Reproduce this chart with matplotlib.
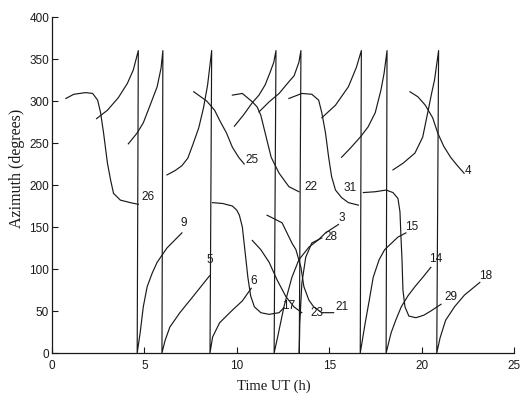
import matplotlib
matplotlib.use('Agg')
import matplotlib.pyplot as plt

# azimuth tracks: time UT (h), azimuth (deg)
# a 360 -> 0 jump is kept as two consecutive points (the vertical lines)
sv26_t = [0.75, 1.18, 1.82, 2.2, 2.47, 2.63, 2.79, 3.0, 3.17, 3.33, 3.7, 4.24, 4.67]
sv26_az = [303, 308, 310, 309, 301, 286, 262, 226, 206, 190, 182, 179, 177]

sv9_t = [2.41, 3.0, 3.59, 4.08, 4.4, 4.67, 4.61, 4.77, 4.94, 5.15, 5.42, 5.69, 6.22, 7.03]
sv9_az = [279, 289, 304, 321, 337, 360, 0, 24, 55, 79, 95, 108, 125, 143]

sv5_t = [4.13, 4.61, 4.94, 5.31, 5.69, 5.9, 6.0, 5.95, 6.12, 6.38, 6.92, 7.62, 8.53]
sv5_az = [249, 262, 274, 295, 317, 339, 360, 0, 15, 31, 48, 67, 92]

sv6_t = [6.22, 6.65, 7.03, 7.35, 7.62, 7.94, 8.2, 8.42, 8.64, 8.55, 8.69, 9.07, 9.76, 10.3, 10.78]
sv6_az = [212, 217, 223, 232, 248, 268, 292, 319, 360, 0, 19, 36, 51, 62, 77]

sv25_t = [7.67, 8.37, 8.8, 9.07, 9.44, 9.76, 10.1, 10.4]
sv25_az = [311, 300, 289, 277, 262, 245, 233, 225]

sv22_t = [9.76, 10.3, 10.84, 11.1, 11.3, 11.59, 11.86, 12.29, 12.82, 13.36]
sv22_az = [307, 309, 299, 293, 283, 257, 233, 214, 198, 192]

sv17_t = [8.69, 9.23, 9.76, 10.0, 10.14, 10.3, 10.45, 10.6, 10.75, 10.95, 11.3, 11.75, 12.29, 12.55]
sv17_az = [179, 178, 175, 170, 164, 150, 120, 90, 68, 55, 48, 46, 48, 54]

sv23_t = [10.84, 11.3, 11.75, 12.18, 12.66, 13.09, 13.52]
sv23_az = [134, 123, 108, 87, 67, 55, 48]

sv21_t = [11.64, 12.45, 12.98, 13.2, 13.47, 13.63, 13.9, 14.16, 14.6, 15.24]
sv21_az = [164, 155, 131, 123, 102, 79, 63, 55, 48, 48]

sv3_t = [9.87, 10.35, 10.84, 11.2, 11.53, 11.8, 12.0, 12.12, 12.02, 12.2, 12.55, 12.98,
         13.36, 13.9, 14.43, 14.8, 15.5]
sv3_az = [270, 283, 298, 307, 319, 334, 346, 360, 0, 18, 55, 90, 111, 126, 135, 143, 153]

sv28_t = [11.2, 11.75, 12.29, 12.82, 13.1, 13.36, 13.47, 13.38, 13.41, 13.52, 13.73, 14.06, 14.6]
sv28_az = [287, 299, 309, 323, 330, 346, 360, 0, 36, 83, 114, 131, 137]

sv31_t = [12.82, 13.52, 14.06, 14.43, 14.6, 14.8, 14.97, 15.13, 15.34, 15.67, 16.04, 16.58]
sv31_az = [303, 309, 308, 301, 286, 262, 233, 210, 194, 185, 179, 176]

sv15_t = [14.6, 15.34, 16.04, 16.47, 16.74, 16.68, 16.95, 17.17, 17.38, 17.7, 18.0, 18.72, 19.15]
sv15_az = [280, 295, 317, 340, 360, 0, 36, 63, 90, 111, 123, 138, 143]

sv14_t = [15.67, 16.15, 16.68, 17.1, 17.49, 17.8, 17.97, 18.13, 18.08, 18.35, 18.6, 18.9,
          19.26, 19.64, 20.06, 20.5]
sv14_az = [233, 244, 257, 269, 286, 313, 333, 360, 0, 24, 39, 55, 68, 79, 90, 102]

sv29_t = [16.85, 17.5, 18.08, 18.45, 18.72, 18.83, 18.88, 18.94, 18.99, 19.1, 19.31, 19.69,
          20.12, 20.5, 21.05]
sv29_az = [191, 192, 194, 191, 184, 168, 140, 111, 75, 55, 44, 42, 45, 50, 58]

sv4_t = [19.37, 19.8, 20.2, 20.6, 20.87, 21.2, 21.57, 21.94, 22.3]
sv4_az = [311, 305, 295, 280, 262, 246, 233, 223, 214]

sv18_t = [18.45, 19.0, 19.64, 20.06, 20.33, 20.55, 20.7, 20.92, 20.82, 21.0, 21.3, 21.78,
          22.32, 23.15]
sv18_az = [218, 226, 238, 257, 286, 310, 325, 360, 0, 18, 39, 55, 69, 84]

tracks = [
    ('26', sv26_t, sv26_az), ('9', sv9_t, sv9_az), ('5', sv5_t, sv5_az),
    ('6', sv6_t, sv6_az), ('25', sv25_t, sv25_az), ('22', sv22_t, sv22_az),
    ('17', sv17_t, sv17_az), ('23', sv23_t, sv23_az), ('21', sv21_t, sv21_az),
    ('3', sv3_t, sv3_az), ('28', sv28_t, sv28_az), ('31', sv31_t, sv31_az),
    ('15', sv15_t, sv15_az), ('14', sv14_t, sv14_az), ('29', sv29_t, sv29_az),
    ('4', sv4_t, sv4_az), ('18', sv18_t, sv18_az),
]

# where each PRN label sits relative to the end of its track (pixels)
label_offset = {
    '26': (10, 7), '9': (2, 10), '5': (0, 16), '6': (2, 7), '25': (8, 4),
    '22': (12, 5), '17': (5, 2), '23': (15, 0), '21': (8, 6), '3': (3, 6),
    '28': (9, 1), '31': (-8, 17), '15': (6, 6), '14': (5, 8), '29': (10, 7),
    '18': (6, 6), '4': (4, 2),
}

fig = plt.figure(figsize=(5.22, 3.98), dpi=100)
ax = fig.add_axes([52/522, 45/398, 462/522, 336/398])
LC = '#1a1a1a'
for prn, t, az in tracks:
    ax.plot(t, az, color=LC, lw=0.85)
    ax.annotate(prn, xy=(t[-1], az[-1]), xytext=label_offset[prn],
                textcoords='offset pixels', ha='center', va='center',
                fontsize=8.5, family='Liberation Sans', color=LC)

ax.set_xlim(0, 25)
ax.set_ylim(0, 400)
ax.set_xticks(range(0, 26, 5))
ax.set_yticks(range(0, 401, 50))
for s in ['top', 'right']:
    ax.spines[s].set_visible(False)
for s in ['left', 'bottom']:
    ax.spines[s].set_linewidth(0.9)
    ax.spines[s].set_color(LC)
ax.tick_params(direction='in', length=4, width=0.8, colors=LC, labelsize=8.5)
ax.tick_params(axis='y', pad=2)
ax.tick_params(axis='x', pad=5)
for lb in ax.get_xticklabels() + ax.get_yticklabels():
    lb.set_family('Liberation Sans')

ax.set_xlabel('Time UT (h)', family='Liberation Serif', fontsize=10.5, color=LC)
ax.set_ylabel('Azimuth (degrees)', family='Liberation Serif', fontsize=11.5, color=LC)
ax.xaxis.set_label_coords(0.48, -0.078)
ax.yaxis.set_label_coords(-0.058, 0.55)

fig.savefig('out.png', dpi=100)
